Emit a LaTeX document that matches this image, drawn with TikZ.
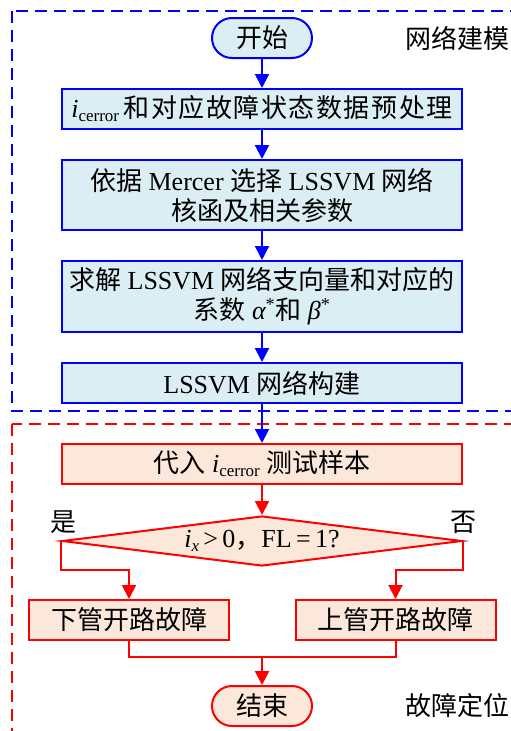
\documentclass[tikz,border=0pt]{standalone}
\usepackage{fontspec}
\setmainfont{Liberation Serif}
\newfontfamily\cjk{Noto Sans CJK SC}
\usetikzlibrary{arrows.meta,shapes.geometric}
\definecolor{bfill}{RGB}{219,238,244}
\definecolor{rfill}{RGB}{252,232,218}
\definecolor{myblue}{RGB}{0,0,255}
\definecolor{myred}{RGB}{255,0,0}
\newcommand\zh[1]{{\cjk #1}}
\newcommand\icerr{{\itshape i}\raisebox{-4pt}{\fontsize{17}{17}\selectfont cerror}}
\begin{document}
\begin{tikzpicture}[x=1pt,y=-1pt,
  every node/.style={font=\fontsize{26}{30}\selectfont, text=black},
  bbox/.style={draw=myblue, fill=bfill, line width=2pt, minimum width=400pt, minimum height=40pt, inner sep=0pt, align=center},
  rbox/.style={draw=myred, fill=rfill, line width=2pt, minimum width=200pt, minimum height=40pt, inner sep=0pt, align=center},
  term/.style={rounded corners=20pt, minimum width=100pt, minimum height=40pt, line width=2pt, inner sep=0pt},
  barrow/.style={draw=myblue, line width=2pt, -{Triangle[length=14pt,width=14pt]}},
  rarrow/.style={draw=myred, line width=2pt, -{Triangle[length=14pt,width=14pt]}},
  rline/.style={draw=myred, line width=2pt},
  frame/.style={line width=2pt, dash pattern=on 12pt off 7pt},
  lbl/.style={inner sep=0pt}
]
\useasboundingbox (0,0) rectangle (511,731);
\clip (0,0) rectangle (511,731);
% frames
\draw[frame, myblue] (12,11) rectangle (513,411);
\draw[frame, myred] (12,424) rectangle (513,745);
% modelling part
\node[term, draw=myblue, fill=bfill] (start) at (262,38) {\zh{开始}};
\node[bbox] (b1) at (262,109) {\icerr\,{\cjk\addfontfeature{LetterSpace=6}和对应故障状态数据预处理}};
\node[bbox, minimum height=70pt] (b2) at (262,195) {\zh{依据} Mercer \zh{选择} LSSVM \zh{网络}\\\zh{核函及相关参数}};
\node[bbox, minimum height=71pt] (b3) at (262,296.5) {\zh{求解} LSSVM \zh{网络支向量和对应的}\\\zh{系数} {\itshape α}\textsuperscript{*}\zh{和} {\itshape β}\textsuperscript{*}};
\node[bbox] (b4) at (262,383) {LSSVM \zh{网络构建}};
\node[lbl] (l1) at (457,38) {\zh{网络建模}};
% location part
\node[rbox, minimum width=400pt] (b5) at (262,464) {\zh{代入} \icerr\ \zh{测试样本}};
\node[diamond, aspect=8, draw=myred, fill=rfill, line width=2pt, minimum width=400pt, minimum height=50pt, inner sep=0pt] (dia) at (262,541) {{\itshape i}\raisebox{-4pt}{\fontsize{17}{17}\selectfont\itshape x}\,>\,0\zh{，}FL\,=\,1?};
\node[lbl] (yes) at (63,522) {\zh{是}};
\node[lbl] (no) at (463,522) {\zh{否}};
\node[rbox] (down) at (129,620) {\zh{下管开路故障}};
\node[rbox] (up) at (395.5,620) {\zh{上管开路故障}};
\node[term, draw=myred, fill=rfill] (end) at (262,706) {\zh{结束}};
\node[lbl] (l2) at (457,706) {\zh{故障定位}};
\coordinate (merge) at (262,657);
% connectors
\draw[barrow] (start.south) -- (b1.north);
\draw[barrow] (b1.south) -- (b2.north);
\draw[barrow] (b2.south) -- (b3.north);
\draw[barrow] (b3.south) -- (b4.north);
\draw[barrow] (b4.south) -- (b5.north);
\draw[rarrow] (b5.south) -- (dia.north);
\draw[rarrow] (dia.west) -- ++(0,29) -| (down.north);
\draw[rarrow] (dia.east) -- ++(0,29) -| (up.north);
\draw[rline] (down.south) |- (merge) -| (up.south);
\draw[rarrow] (merge) -- (end.north);
\end{tikzpicture}
\end{document}
